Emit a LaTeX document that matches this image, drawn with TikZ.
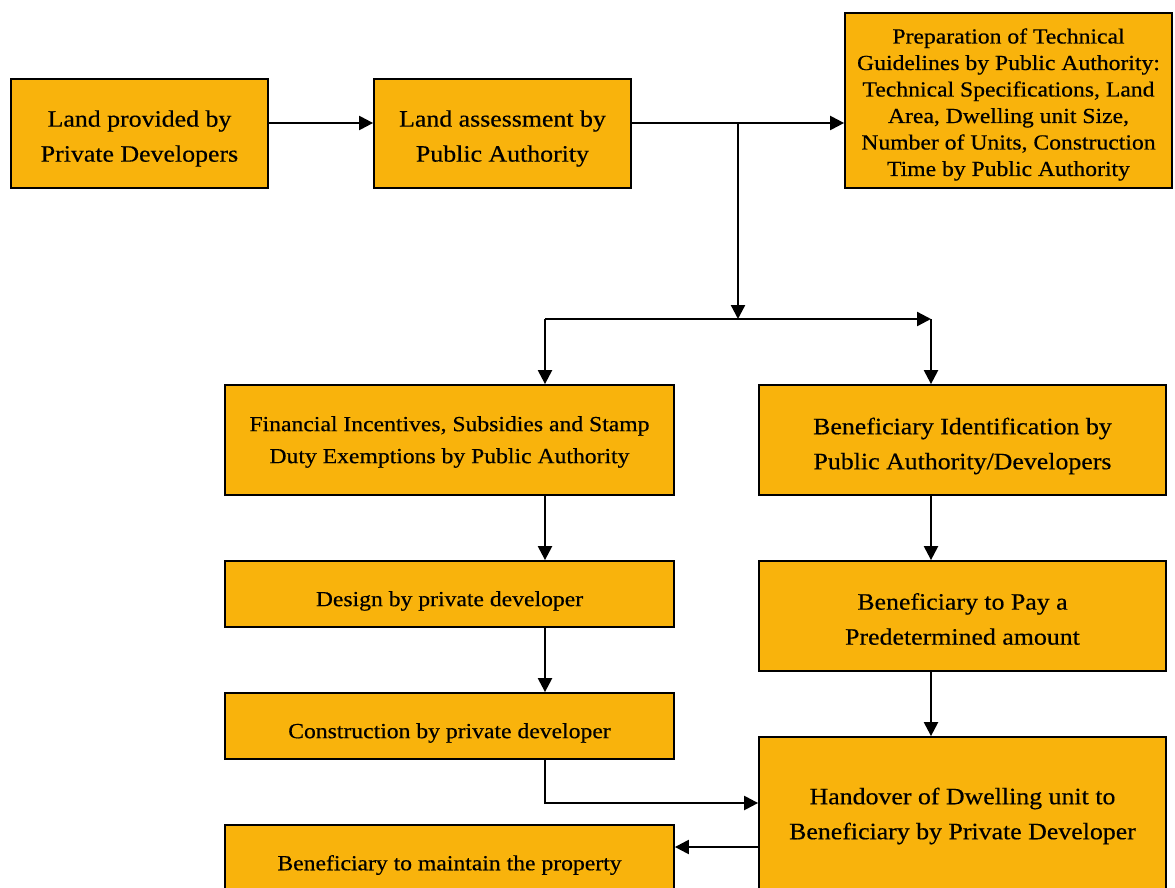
\documentclass[tikz,border=0pt]{standalone}
\usepackage{fontspec}
\setmainfont{Liberation Serif}[FakeStretch=1.1,FakeBold=0.4]
\usetikzlibrary{arrows.meta}
\definecolor{boxfill}{RGB}{249,179,12}
\tikzset{
  box/.style={draw=black, line width=1.8pt, fill=boxfill, inner sep=0pt},
  big/.style={align=center, inner sep=0pt, text=black, font=\fontsize{23.5}{35}\selectfont},
  small/.style={align=center, inner sep=0pt, text=black, font=\fontsize{21.5}{32}\selectfont},
  arr/.style={line width=2.3pt, -{Triangle[length=14pt,width=14pt]}},
}
\begin{document}
\begin{tikzpicture}[x=1pt,y=-1pt]
\useasboundingbox (0,0) rectangle (1175,888);
\clip (0,0) rectangle (1175,888);
% boxes
\node[box,minimum width=257pt,minimum height=109pt] (b1) at (139.5,133.5) {};
\node[box,minimum width=257pt,minimum height=109pt] (b2) at (502.5,133.5) {};
\node[box,minimum width=327pt,minimum height=175pt] (b3) at (1008.5,100.5) {};
\node[box,minimum width=449pt,minimum height=110pt] (b4) at (449.5,440) {};
\node[box,minimum width=407pt,minimum height=110pt] (b5) at (962.5,440) {};
\node[box,minimum width=449pt,minimum height=66pt] (b6) at (449.5,594) {};
\node[box,minimum width=407pt,minimum height=110pt] (b7) at (962.5,616) {};
\node[box,minimum width=449pt,minimum height=66pt] (b8) at (449.5,726) {};
\node[box,minimum width=407pt,minimum height=152pt] (b9) at (962.5,813) {};
\node[box,minimum width=449pt,minimum height=74pt] (b10) at (449.5,862) {};
% texts
\node[big] (t1) at ([yshift=-5pt]b1.center) {Land provided by\\Private Developers};
\node[big] (t2) at ([yshift=-5pt]b2.center) {Land assessment by\\Public Authority};
\node[small,font=\fontsize{21.5}{26.5}\selectfont] (t3) at ([yshift=-4pt]b3.center) {Preparation of Technical\\Guidelines by Public Authority:\\Technical Specifications, Land\\Area, Dwelling unit Size,\\Number of Units, Construction\\Time by Public Authority};
\node[small] (t4) at ([yshift=-2pt]b4.center) {Financial Incentives, Subsidies and Stamp\\Duty Exemptions by Public Authority};
\node[big] (t5) at ([yshift=-6pt]b5.center) {Beneficiary Identification by\\Public Authority/Developers};
\node[small] (t6) at ([yshift=-7pt]b6.center) {Design by private developer};
\node[big] (t7) at ([yshift=-3pt]b7.center) {Beneficiary to Pay a\\Predetermined amount};
\node[small] (t8) at ([yshift=-7pt]b8.center) {Construction by private developer};
\node[big] (t9) at ([yshift=-3pt]b9.center) {Handover of Dwelling unit to\\Beneficiary by Private Developer};
\node[small] (t10) at ([yshift=-3pt]b10.center) {Beneficiary to maintain the property};
% routing coordinates
\coordinate (r1) at (0,123);
\coordinate (j1) at (738,123);
\coordinate (j2) at (738,319);
\coordinate (jl) at (545,319);
\coordinate (jr) at (931,319);
\coordinate (r2) at (0,803);
\coordinate (r3) at (0,847);
% connectors
\draw[arr] (b1.east |- r1) -- (b2.west |- r1);
\draw[arr] (b2.east |- r1) -- (b3.west |- r1);
\draw[arr] (j1) -- (j2);
\draw[arr] (jl) -- (jr);
\draw[arr] (jl) -- (jl |- b4.north);
\draw[arr] (jr) -- (jr |- b5.north);
\draw[arr] (b4.south -| jl) -- (b6.north -| jl);
\draw[arr] (b6.south -| jl) -- (b8.north -| jl);
\draw[arr] (b5.south -| jr) -- (b7.north -| jr);
\draw[arr] (b7.south -| jr) -- (b9.north -| jr);
\draw[arr] (b8.south -| jl) |- (b9.west |- r2);
\draw[arr] (b9.west |- r3) -- (b10.east |- r3);
\end{tikzpicture}
\end{document}
